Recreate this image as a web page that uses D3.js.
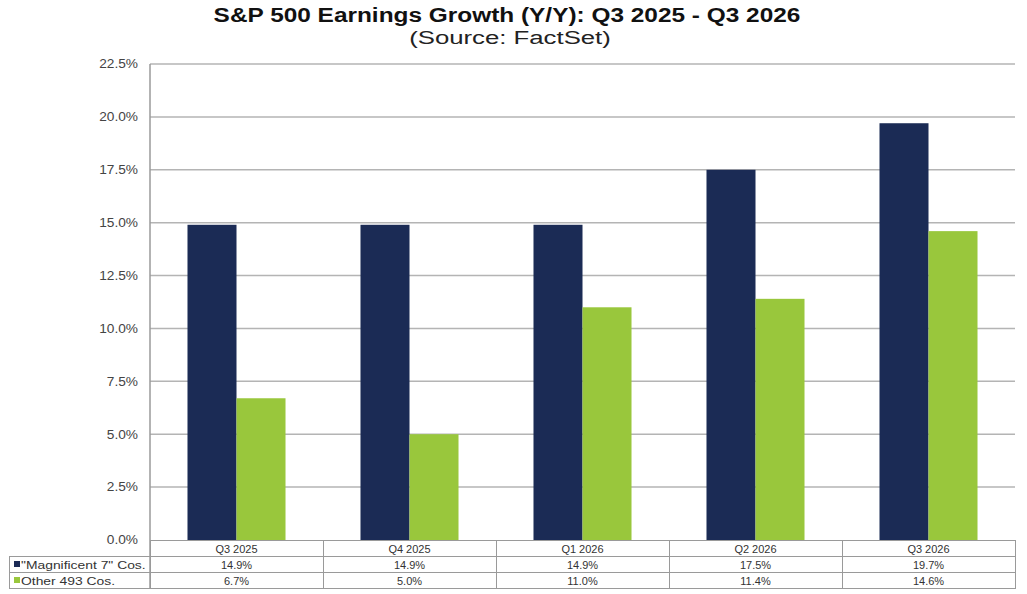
<!DOCTYPE html>
<meta charset="utf-8">
<style>
body { margin: 0; background: #fff; }
text { font-family: "Liberation Sans", Arial, sans-serif; fill: #333; }
.grid line { stroke: #b4b4b4; stroke-width: 1.5px; }
.cell { fill: none; stroke: #9a9a9a; stroke-width: 1px; }
</style>
<body>
<script src="https://cdn.jsdelivr.net/npm/d3@7/dist/d3.min.js"></script>
<script>

// data
var quarters = ["Q3 2025", "Q4 2025", "Q1 2026", "Q2 2026", "Q3 2026"];
var seriesNames = ["\"Magnificent 7\" Cos.", "Other 493 Cos."];
var mag7 = [14.9, 14.9, 14.9, 17.5, 19.7];
var other493 = [6.7, 5.0, 11.0, 11.4, 14.6];
var yTicks = [0, 2.5, 5, 7.5, 10, 12.5, 15, 17.5, 20, 22.5];
var colors = ["#1b2b55", "#99c73c"];

var W = 1027, H = 594;
var plotL = 150, plotR = 1015, plotT = 64, plotB = 540;
var rowH = 16;

// the source picture has its text a bit wider than the font, stretch it
function stretch(sel, k) {
  sel.each(function() {
    var w = this.getComputedTextLength();
    d3.select(this).attr("textLength", w * k).attr("lengthAdjust", "spacingAndGlyphs");
  });
}

var svg = d3.select("body").append("svg")
    .attr("width", W).attr("height", H);

// title
svg.append("text")
    .attr("x", 507).attr("y", 22)
    .attr("text-anchor", "middle")
    .style("font-size", "20px").style("font-weight", "bold").style("fill", "#111")
    .text("S&P 500 Earnings Growth (Y/Y): Q3 2025 - Q3 2026")
    .call(stretch, 1.22);
svg.append("text")
    .attr("x", 510).attr("y", 44)
    .attr("text-anchor", "middle")
    .style("font-size", "18px").style("fill", "#222")
    .text("(Source: FactSet)")
    .call(stretch, 1.43);

// scales
var x = d3.scaleBand().domain(quarters).range([plotL, plotR]);
var xs = d3.scaleBand().domain([0, 1]).range([0, x.bandwidth()]).paddingOuter(0.765);
var y = d3.scaleLinear().domain([0, 22.5]).range([plotB, plotT]);

// gridlines
svg.append("g").attr("class", "grid")
  .selectAll("line").data(yTicks.filter(function(d) { return d > 0; }))
  .enter().append("line")
    .attr("x1", plotL).attr("x2", plotR)
    .attr("y1", function(d) { return y(d); })
    .attr("y2", function(d) { return y(d); });

// y axis
var yAxis = d3.axisLeft(y).tickValues(yTicks)
    .tickFormat(function(d) { return d.toFixed(1) + "%"; })
    .tickSize(0).tickPadding(12);
var ga = svg.append("g")
    .attr("transform", "translate(" + plotL + ",0)")
    .call(yAxis);
ga.select(".domain").remove();
ga.selectAll("text").style("font-size", "12px").style("fill", "#444")
    .style("font-family", "'Liberation Sans', Arial, sans-serif")
    .call(stretch, 1.14);

// bars
var series = [mag7, other493];
series.forEach(function(vals, si) {
  svg.append("g").selectAll("rect").data(vals).enter().append("rect")
    .attr("x", function(d, i) { return x(quarters[i]) + xs(si); })
    .attr("width", xs.bandwidth())
    .attr("y", function(d) { return y(d); })
    .attr("height", function(d) { return y(0) - y(d); })
    .attr("fill", colors[si]);
});

// baseline and left axis line
svg.append("line").attr("x1", plotL).attr("x2", plotR)
    .attr("y1", plotB + 0.5).attr("y2", plotB + 0.5)
    .attr("stroke", "#9a9a9a").attr("stroke-width", 1);
svg.append("line").attr("x1", plotL).attr("x2", plotL)
    .attr("y1", plotT).attr("y2", plotB + rowH * 3)
    .attr("stroke", "#9a9a9a").attr("stroke-width", 1.5);

// data table
var t0 = plotB + rowH; // first data row top
svg.append("g").selectAll("rect").data(quarters).enter().append("rect")
    .attr("class", "cell")
    .attr("x", function(d) { return x(d) + 0.5; })
    .attr("y", plotB + 0.5)
    .attr("width", x.bandwidth()).attr("height", rowH);
svg.append("g").selectAll("text").data(quarters).enter().append("text")
    .attr("x", function(d) { return x(d) + x.bandwidth() / 2; })
    .attr("y", plotB + 12.5)
    .attr("text-anchor", "middle")
    .style("font-size", "11px")
    .text(function(d) { return d; });

series.forEach(function(vals, si) {
  var ry = t0 + si * rowH;
  svg.append("rect").attr("class", "cell")
      .attr("x", 9.5).attr("y", ry + 0.5)
      .attr("width", plotL - 9).attr("height", rowH);
  svg.append("rect")
      .attr("x", 14).attr("y", ry + 5)
      .attr("width", 6).attr("height", 6)
      .attr("fill", colors[si]);
  svg.append("text")
      .attr("x", 21).attr("y", ry + 12.5)
      .style("font-size", "11px")
      .text(seriesNames[si])
      .call(stretch, 1.26);
  svg.append("g").selectAll("rect").data(vals).enter().append("rect")
      .attr("class", "cell")
      .attr("x", function(d, i) { return x(quarters[i]) + 0.5; })
      .attr("y", ry + 0.5)
      .attr("width", x.bandwidth()).attr("height", rowH);
  svg.append("g").selectAll("text").data(vals).enter().append("text")
      .attr("x", function(d, i) { return x(quarters[i]) + x.bandwidth() / 2; })
      .attr("y", ry + 12.5)
      .attr("text-anchor", "middle")
      .style("font-size", "11px")
      .text(function(d) { return d.toFixed(1) + "%"; });
});

</script>
</body>
